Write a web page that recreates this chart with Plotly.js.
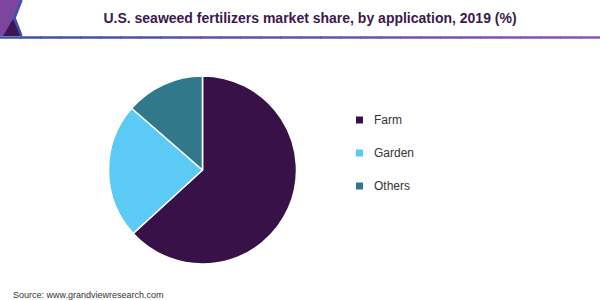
<!DOCTYPE html>
<html>
<head>
<meta charset="utf-8">
<script src="https://cdn.plot.ly/plotly-3.0.1.min.js"></script>
<style>
  html, body { margin: 0; padding: 0; background: #fff; }
  #chart { width: 600px; height: 300px; }
</style>
</head>
<body>
<div id="chart"></div>
<script>
const categories = ["Farm", "Garden", "Others"];
const shares = [63.2, 23.2, 13.6];
const colors = ["#371148", "#5BCBF5", "#31788A"];
const titleText = "U.S. seaweed fertilizers market share, by application, 2019 (%)";
const sourceText = "Source: www.grandviewresearch.com";

const W = 600, H = 300;
const px = x => x / W;
const py = y => 1 - y / H;

const trace = {
  type: "pie",
  labels: categories,
  values: shares,
  sort: false,
  direction: "clockwise",
  rotation: 0,
  marker: { colors: colors, line: { color: "#ffffff", width: 1.5 } },
  textinfo: "none",
  hoverinfo: "label+percent",
  showlegend: false,
  domain: { x: [px(202.5 - 94), px(202.5 + 94)], y: [py(170 + 94), py(170 - 94)] }
};

const shapes = [];
const annotations = [];

// header decoration
shapes.push({ type: "path", xref: "paper", yref: "paper",
  path: `M ${px(0)},${py(0)} L ${px(21)},${py(0)} L ${px(14)},${py(18)} L ${px(21)},${py(36)} L ${px(0)},${py(36)} Z`,
  fillcolor: "#7E459F", line: { width: 0 } });
shapes.push({ type: "path", xref: "paper", yref: "paper",
  path: `M ${px(13)},${py(19)} L ${px(3)},${py(36)} L ${px(21)},${py(36)} Z`,
  fillcolor: "#3E1652", line: { width: 0 } });
shapes.push({ type: "path", xref: "paper", yref: "paper",
  path: `M ${px(21.5)},${py(0)} L ${px(14.5)},${py(18)} L ${px(21.5)},${py(36)}`,
  line: { color: "#3E4FB0", width: 2.5 } });

// gradient rule under title
const c0 = [0x3E, 0x50, 0xAE], c1 = [0x8C, 0x52, 0xB8];
const nSeg = 30;
for (let i = 0; i < nSeg; i++) {
  const t = i / (nSeg - 1);
  const c = c0.map((v, k) => Math.round(v + (c1[k] - v) * t));
  shapes.push({ type: "line", xref: "paper", yref: "paper",
    x0: i / nSeg, x1: (i + 1) / nSeg + 0.002, y0: py(37.5), y1: py(37.5),
    line: { color: `rgb(${c[0]},${c[1]},${c[2]})`, width: 2.5 } });
}

// legend built from the category arrays
const legendY = [120, 153, 186];
categories.forEach((cat, i) => {
  shapes.push({ type: "rect", xref: "paper", yref: "paper",
    x0: px(356), x1: px(363), y0: py(legendY[i] + 3.5), y1: py(legendY[i] - 3.5),
    fillcolor: colors[i], line: { width: 0 } });
  annotations.push({ xref: "paper", yref: "paper", x: px(372), y: py(legendY[i]),
    xanchor: "left", yanchor: "middle", showarrow: false, text: cat,
    font: { family: "Liberation Sans, Arial, sans-serif", size: 12, color: "#333333" } });
});

annotations.push({ xref: "paper", yref: "paper", x: px(11), y: py(295),
  xanchor: "left", yanchor: "middle", showarrow: false, text: sourceText,
  font: { family: "Liberation Sans, Arial, sans-serif", size: 9, color: "#333333" } });

const layout = {
  width: W, height: H,
  margin: { l: 0, r: 0, t: 0, b: 0, pad: 0 },
  paper_bgcolor: "#ffffff",
  plot_bgcolor: "#ffffff",
  title: { text: "<b>" + titleText + "</b>", x: px(310), xanchor: "center",
    y: py(18), yanchor: "middle", yref: "paper",
    font: { family: "Liberation Sans, Arial, sans-serif", size: 14, color: "#3A1A4E" } },
  showlegend: false,
  shapes: shapes,
  annotations: annotations
};

Plotly.newPlot("chart", [trace], layout, { displayModeBar: false, staticPlot: true });
</script>
</body>
</html>
